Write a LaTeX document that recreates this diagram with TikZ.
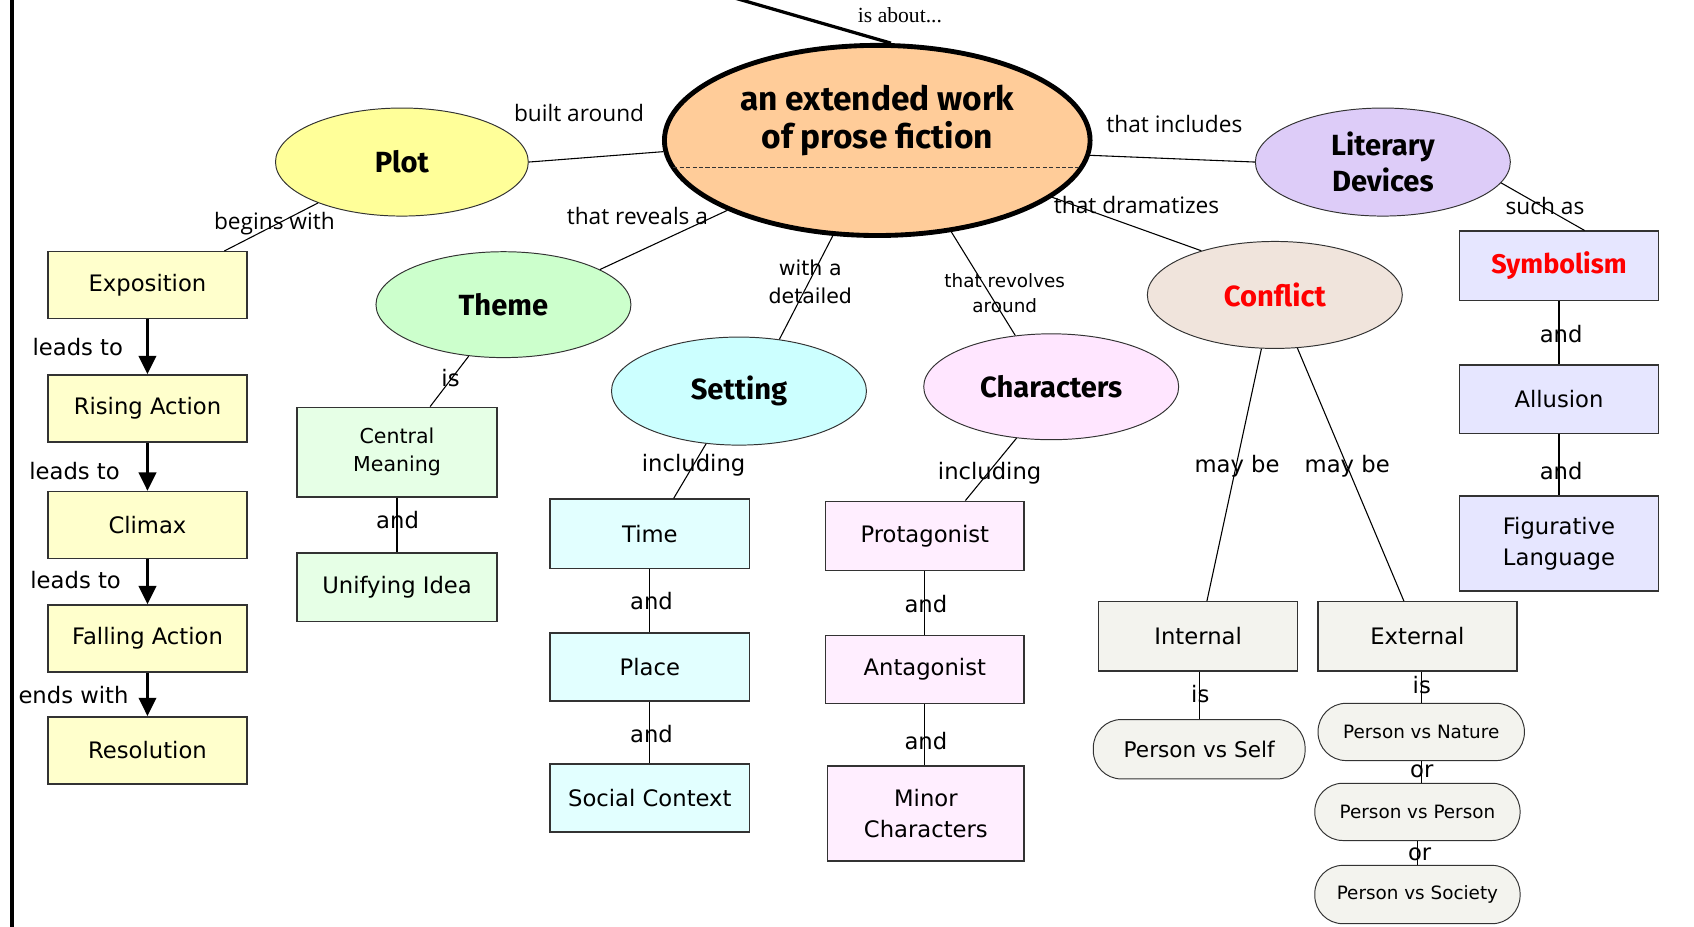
\documentclass[tikz,border=0pt]{standalone}
\usepackage{fontspec}
\setmainfont{DejaVu Sans}
\newfontfamily\ellfont{Fira Sans}
\newfontfamily\linkfont{Open Sans}
\newfontfamily\aboutfont{Liberation Serif}
\usetikzlibrary{shapes.geometric,arrows.meta}
\definecolor{cpeach}{HTML}{FFCC99}
\definecolor{cplot}{HTML}{FFFF99}
\definecolor{ctheme}{HTML}{CCFFCC}
\definecolor{csetting}{HTML}{CCFFFF}
\definecolor{cchar}{HTML}{FFE6FF}
\definecolor{cconf}{HTML}{F0E4DC}
\definecolor{clit}{HTML}{DDCCF8}
\definecolor{bplot}{HTML}{FFFFCC}
\definecolor{btheme}{HTML}{E6FFE6}
\definecolor{bset}{HTML}{E2FFFF}
\definecolor{bchar}{HTML}{FFEEFF}
\definecolor{bconf}{HTML}{F3F3EE}
\definecolor{blit}{HTML}{E6E6FF}
\definecolor{edge}{HTML}{333333}
\begin{document}
\begin{tikzpicture}[x=1pt,y=-1pt,
  ell/.style={ellipse, draw=edge, line width=0.9pt, inner sep=0pt, align=center,
    font=\ellfont\bfseries\fontsize{27}{33}\selectfont},
  cbox/.style={rectangle, draw=edge, line width=1.3pt, inner sep=0pt, align=center,
    minimum width=184pt, minimum height=63pt, font=\fontsize{21}{29}\selectfont},
  pill/.style={rectangle, rounded corners=26pt, draw=edge, line width=0.9pt, fill=bconf,
    inner sep=0pt, minimum height=54pt, font=\fontsize{17}{20}\selectfont},
  lnk/.style={inner sep=0pt, font=\linkfont\fontsize{21}{25}\selectfont},
  blab/.style={inner sep=0pt, align=center, font=\fontsize{21}{25}\selectfont},
  conn/.style={draw=black, line width=1pt},
  flow/.style={draw=black, line width=2.8pt, -{Triangle[width=16pt,length=17pt]}}]
\useasboundingbox (0,0) rectangle (1568,858);

% left frame line
\draw[line width=3.5pt] (11,-5) -- (11,870);

% central concept
\node[ell, draw=black, line width=4.5pt, fill=cpeach, minimum width=394pt, minimum height=176pt,
  font=\ellfont\bfseries\fontsize{31}{35}\selectfont, text depth=44pt] (central) at (812,130)
  {an extended work\\of prose fiction};
\draw[black!80, line width=0.8pt, dash pattern=on 4pt off 2pt] (623,155) -- (1001,155);
\coordinate (topend) at (676,-3);
\draw[line width=3pt] (topend) -- (central.82);
\node[inner sep=0pt, font=\aboutfont\fontsize{20}{24}\selectfont] (about) at (833,14) {is about...};

% first-level concepts
\node[ell, fill=cplot, minimum width=234pt, minimum height=100pt] (plot) at (372,150) {Plot};
\node[ell, fill=clit, minimum width=236pt, minimum height=100pt] (litdev) at (1280,150) {Literary\\Devices};
\node[ell, fill=ctheme, minimum width=236pt, minimum height=98pt] (theme) at (466,282) {Theme};
\node[ell, fill=csetting, minimum width=236pt, minimum height=100pt] (setting) at (684,362) {Setting};
\node[ell, fill=cchar, minimum width=236pt, minimum height=98pt] (characters) at (973,358) {Characters};
\node[ell, fill=cconf, minimum width=236pt, minimum height=99pt, text=red] (conflict) at (1180,273) {Conflict};

\draw[conn] (plot.east) -- (central.183);
\draw[conn] (central.356) -- (litdev.west);
\draw[conn] (theme.20) -- (central.205);
\draw[conn] (setting.52) -- (central.245);
\draw[conn] (central.309) -- (characters.125);
\draw[conn] (central.342) -- (conflict.149);

\node[lnk] (l1) at (536,105) {built around};
\node[lnk] (l2) at (1087,115) {that includes};
\node[lnk] (l3) at (590,200) {that reveals a};
\node[blab, font=\fontsize{19}{26}\selectfont] (l4) at (750,261) {with a\\detailed};
\node[blab, font=\fontsize{17}{23}\selectfont] (l5) at (930,271) {that revolves\\around};
\node[lnk] (l6) at (1052,190) {that dramatizes};

% Plot column
\node[cbox, fill=bplot, minimum height=62pt] (expo) at (136.5,264) {Exposition};
\node[cbox, fill=bplot, minimum height=62pt] (rising) at (136.5,378) {Rising Action};
\node[cbox, fill=bplot, minimum height=62pt] (climax) at (136.5,486) {Climax};
\node[cbox, fill=bplot, minimum height=62pt] (falling) at (136.5,591) {Falling Action};
\node[cbox, fill=bplot, minimum height=62pt] (resol) at (136.5,694.5) {Resolution};
\draw[conn] (plot.206) -- (expo.24);
\node[lnk] (bw) at (254,207) {begins with};
\draw[flow] (expo.south) -- (rising.north);
\draw[flow] (rising.south) -- (climax.north);
\draw[flow] (climax.south) -- (falling.north);
\draw[flow] (falling.south) -- (resol.north);
\node[blab] (lt1) at (72,321) {leads to};
\node[blab] (lt2) at (69,436) {leads to};
\node[blab] (lt3) at (70,537) {leads to};
\node[blab] (ew) at (68,643) {ends with};

% Theme column
\node[cbox, fill=btheme, minimum width=185pt, minimum height=83pt, font=\fontsize{19}{26}\selectfont] (cmean) at (367.5,418.5) {Central\\Meaning};
\node[cbox, fill=btheme, minimum width=185pt] (unify) at (367.5,543.5) {Unifying Idea};
\draw[conn] (theme.236) -- (cmean.54);
\draw[conn] (cmean.south) -- (unify.north);
\node[blab] (t1) at (417,350) {is};
\node[blab] (t2) at (368,481) {and};

% Setting column
\node[cbox, fill=bset, minimum width=185pt, minimum height=64pt] (time) at (601.5,494) {Time};
\node[cbox, fill=bset, minimum width=185pt] (place) at (601.5,617.5) {Place};
\node[cbox, fill=bset, minimum width=185pt] (social) at (601.5,738.5) {Social Context};
\draw[conn] (setting.238) -- (time.56);
\draw[conn] (time.south) -- (place.north);
\draw[conn] (place.south) -- (social.north);
\node[blab] (s1) at (642,431) {including};
\node[blab] (s2) at (603,556) {and};
\node[blab] (s3) at (603,679) {and};

% Characters column
\node[cbox, fill=bchar, minimum height=64pt] (protag) at (856,496) {Protagonist};
\node[cbox, fill=bchar] (antag) at (856,619.5) {Antagonist};
\node[cbox, fill=bchar, minimum width=182pt, minimum height=88pt] (minor) at (857,753) {Minor\\Characters};
\draw[conn] (characters.236) -- (protag.41);
\draw[conn] (protag.south) -- (antag.north);
\draw[conn] (antag.south) -- (minor.north -| antag.south);
\node[blab] (c1) at (916,438) {including};
\node[blab] (c2) at (857,559) {and};
\node[blab] (c3) at (857,686) {and};

% Conflict column
\node[cbox, fill=bconf, minimum height=64pt] (internal) at (1109,589) {Internal};
\node[cbox, fill=bconf, minimum height=64pt] (external) at (1312,589) {External};
\draw[conn] (conflict.256) -- (internal.76);
\draw[conn] (conflict.293) -- (external.111);
\node[blab] (k1) at (1145,432) {may be};
\node[blab] (k2) at (1247,432) {may be};
\node[pill, minimum width=196pt, minimum height=55pt, font=\fontsize{20}{24}\selectfont] (pvself) at (1110,693.5) {Person vs Self};
\node[pill, minimum width=191pt, minimum height=53pt] (pvnature) at (1315.5,677.5) {Person vs Nature};
\node[pill, minimum width=190pt, minimum height=53pt] (pvperson) at (1312,751.5) {Person vs Person};
\node[pill, minimum width=190pt, minimum height=54pt] (pvsociety) at (1312,828) {Person vs Society};
\draw[conn] (internal.south -| pvself.north) -- (pvself.north);
\draw[conn] (pvnature.north |- external.south) -- (pvnature.north);
\draw[conn] (pvnature.south) -- (pvperson.north -| pvnature.south);
\draw[conn] (pvperson.south) -- (pvsociety.north);
\node[blab] (k3) at (1111,642) {is};
\node[blab] (k4) at (1316,634) {is};
\node[blab] (k5) at (1316,714) {or};
\node[blab] (k6) at (1314,791) {or};

% Literary devices column
\node[cbox, fill=blit, minimum height=64pt, text=red, font=\ellfont\bfseries\fontsize{25}{29}\selectfont] (symb) at (1443,246) {Symbolism};
\node[cbox, fill=blit] (allu) at (1443,369.5) {Allusion};
\node[cbox, fill=blit, minimum height=88pt] (figlang) at (1443,503) {Figurative\\Language};
\draw[conn] (litdev.350) -- (symb.54);
\draw[conn] (symb.south) -- (allu.north);
\draw[conn] (allu.south) -- (figlang.north);
\node[lnk] (sa) at (1430,191) {such as};
\node[blab] (d1) at (1445,309) {and};
\node[blab] (d2) at (1445,436) {and};
\end{tikzpicture}
\end{document}
